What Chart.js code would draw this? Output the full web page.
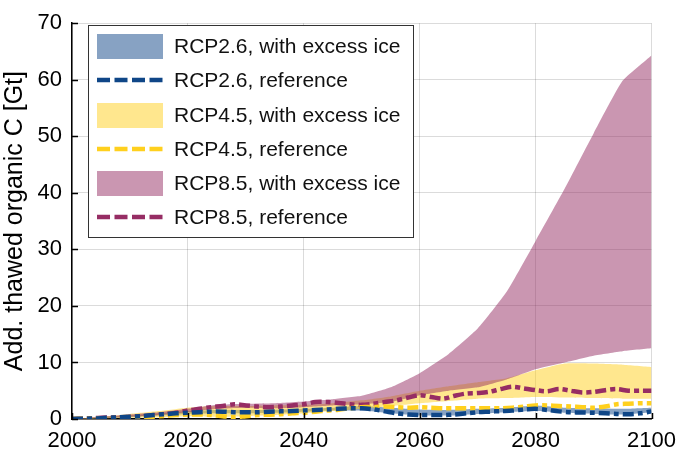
<!DOCTYPE html>
<html>
<head>
<meta charset="utf-8">
<script src="https://cdn.jsdelivr.net/npm/chart.js@4/dist/chart.umd.min.js"></script>
<style>
  html, body { margin: 0; padding: 0; background: #fff; }
  #wrap { width: 685px; height: 449px; }
</style>
</head>
<body>
<div id="wrap"><canvas id="chart"></canvas></div>
<script>
// years for the shaded ranges (every 5 years)
const bandYears = [2000, 2005, 2010, 2015, 2020, 2025, 2030, 2035, 2040, 2045, 2050,
  2055, 2060, 2065, 2070, 2075, 2080, 2085, 2090, 2095, 2100];

// RCP2.6, with excess ice (low / high)
const rcp26Low = [0, 0.1, 0.3, 0.6, 0.9, 1.0, 1.0, 1.1, 1.3, 1.5, 1.5, 1.0, 0.6, 0.6, 0.9, 1.2, 1.4, 1.1, 0.9, 0.8, 1.2];
const rcp26High = [0, 0.3, 0.6, 1.0, 1.4, 1.6, 1.6, 1.6, 1.8, 2.0, 2.3, 2.0, 1.7, 1.6, 1.8, 2.0, 2.4, 2.0, 1.9, 1.8, 2.0];
// RCP4.5, with excess ice
const rcp45Low = [0, 0.1, 0.2, 0.3, 0.5, 0.4, 0.5, 0.7, 1.0, 1.4, 1.8, 2.3, 2.8, 3.2, 3.6, 3.7, 3.9, 3.8, 3.7, 3.6, 3.6];
const rcp45High = [0, 0.4, 0.9, 1.4, 2.0, 2.3, 2.3, 2.4, 2.5, 2.8, 3.3, 4.0, 5.0, 5.8, 6.5, 7.2, 8.6, 9.8, 9.8, 9.6, 9.2];
// RCP8.5, with excess ice
const rcp85Low = [0, 0.2, 0.4, 0.7, 1.2, 1.8, 2.0, 1.9, 2.1, 2.4, 2.6, 3.0, 4.2, 5.0, 5.6, 7.0, 8.8, 10.0, 11.2, 12.0, 12.5];
const rcp85High = [0, 0.4, 0.8, 1.2, 1.8, 2.5, 2.7, 2.8, 3.1, 3.5, 4.1, 5.6, 8.1, 11.5, 16.0, 22.5, 31.5, 40.7, 50.5, 59.8, 64.3];

// years for the reference runs (every 2 years)
const refYears = [];
for (let y = 2000; y <= 2100; y += 2) refYears.push(y);

const rcp26Ref = [0, 0.05, 0.1, 0.2, 0.3, 0.4, 0.5, 0.7, 0.85, 1.0, 1.1, 1.2, 1.3, 1.3, 1.2, 1.2, 1.2, 1.3, 1.35, 1.4,
  1.5, 1.6, 1.7, 1.8, 1.9, 1.9, 1.7, 1.35, 1.0, 0.8, 0.7, 0.7, 0.7, 0.8, 1.0, 1.2, 1.3, 1.4, 1.5, 1.7,
  1.8, 1.6, 1.35, 1.2, 1.15, 1.1, 1.0, 0.9, 0.85, 1.0, 1.35];
const rcp45Ref = [0, 0.05, 0.1, 0.15, 0.2, 0.25, 0.3, 0.4, 0.55, 0.7, 0.8, 0.8, 0.7, 0.5, 0.3, 0.5, 0.7, 0.75, 0.85, 1.0,
  1.1, 1.3, 1.5, 1.65, 1.9, 2.1, 2.1, 2.2, 2.1, 2.0, 2.1, 2.0, 1.9, 1.9, 1.9, 1.9, 1.9, 1.9, 2.0, 2.2,
  2.4, 2.4, 2.3, 2.2, 2.1, 2.0, 2.2, 2.6, 2.7, 2.8, 2.8];
const rcp85Ref = [0, 0.1, 0.15, 0.25, 0.3, 0.35, 0.45, 0.6, 0.8, 1.1, 1.5, 1.8, 2.1, 2.3, 2.6, 2.4, 2.2, 2.1, 2.2, 2.4,
  2.6, 3.0, 3.0, 2.85, 2.6, 2.5, 2.7, 3.0, 3.3, 3.8, 4.2, 3.9, 3.6, 4.1, 4.5, 4.6, 4.8, 5.3, 5.7, 5.4,
  5.1, 4.9, 5.3, 5.0, 4.7, 4.8, 5.1, 5.3, 5.0, 5.0, 5.0];

const FONT = '"Liberation Sans", Arial, Helvetica, sans-serif';
const blue = 'rgb(15,70,135)';
const yellow = 'rgb(255,208,30)';
const purple = 'rgb(150,45,100)';
const fade = c => c.replace('rgb', 'rgba').replace(')', ',0.5)');

const pts = (xs, ys) => xs.map((x, i) => ({ x: x, y: ys[i] }));

function band(label, low, high, color, order) {
  return [
    { label: label + ' low', data: pts(bandYears, low), borderColor: 'transparent', borderWidth: 0,
      pointRadius: 0, fill: false, tension: 0.15, order: order },
    { label: label, data: pts(bandYears, high), borderColor: 'transparent', borderWidth: 0,
      pointRadius: 0, fill: '-1', tension: 0.15, backgroundColor: fade(color), order: order,
      legendType: 'band', legendColor: color }
  ];
}

function ref(label, values, color) {
  return { label: label, data: pts(refYears, values), borderColor: color, borderWidth: 4.5,
    borderDash: [11, 4, 5, 4], pointRadius: 0, fill: false, tension: 0.3, order: 0,
    legendType: 'line', legendColor: color };
}

const datasets = [
  ...band('RCP2.6, with excess ice', rcp26Low, rcp26High, blue, 3),
  ref('RCP2.6, reference', rcp26Ref, blue),
  ...band('RCP4.5, with excess ice', rcp45Low, rcp45High, yellow, 2),
  ref('RCP4.5, reference', rcp45Ref, yellow),
  ...band('RCP8.5, with excess ice', rcp85Low, rcp85High, purple, 1),
  ref('RCP8.5, reference', rcp85Ref, purple)
];

// little inward tick marks on left and bottom axis
const tickMarks = {
  id: 'tickMarks',
  afterDraw(chart) {
    const { ctx, chartArea: a, scales } = chart;
    ctx.save();
    ctx.strokeStyle = '#000';
    ctx.lineWidth = 1.5;
    ctx.beginPath();
    scales.y.ticks.forEach(t => {
      const y = Math.round(scales.y.getPixelForValue(t.value)) + 0.5;
      ctx.moveTo(a.left, y); ctx.lineTo(a.left + 6, y);
    });
    scales.x.ticks.forEach(t => {
      const x = Math.round(scales.x.getPixelForValue(t.value)) + 0.5;
      ctx.moveTo(x, a.bottom); ctx.lineTo(x, a.bottom - 6);
    });
    ctx.stroke();
    ctx.restore();
  }
};

// boxed legend inside the plot, top left
const boxLegend = {
  id: 'boxLegend',
  afterDraw(chart) {
    const { ctx } = chart;
    const items = chart.data.datasets.filter(d => d.legendType);
    const x0 = 88, y0 = 25, w = 325, h = 212;
    const rowY = [46, 80, 115, 149, 183, 217];
    ctx.save();
    ctx.fillStyle = '#fff';
    ctx.fillRect(x0, y0, w, h);
    ctx.strokeStyle = '#333';
    ctx.lineWidth = 1;
    ctx.strokeRect(x0 + 0.5, y0 + 0.5, w, h);
    ctx.font = '21px ' + FONT;
    ctx.textBaseline = 'middle';
    items.forEach((d, i) => {
      const y = rowY[i];
      if (d.legendType === 'band') {
        ctx.fillStyle = fade(d.legendColor);
        ctx.fillRect(97, y - 12, 66, 25);
      } else {
        ctx.strokeStyle = d.legendColor;
        ctx.lineWidth = 4.5;
        ctx.setLineDash([13, 4.5]);
        ctx.beginPath();
        ctx.moveTo(97, y); ctx.lineTo(163, y);
        ctx.stroke();
        ctx.setLineDash([]);
      }
      ctx.fillStyle = '#111';
      ctx.fillText(d.label, 174, y + 1);
    });
    ctx.restore();
  }
};

new Chart(document.getElementById('chart'), {
  type: 'line',
  data: { datasets: datasets },
  options: {
    responsive: true,
    maintainAspectRatio: false,
    animation: false,
    layout: { padding: { top: 9, right: 26, left: 0, bottom: 0 } },
    plugins: {
      legend: { display: false },
      tooltip: { enabled: false },
      filler: { propagate: false }
    },
    scales: {
      x: {
        type: 'linear',
        min: 2000,
        max: 2100,
        ticks: { stepSize: 20, color: '#000', font: { family: FONT, size: 22 }, padding: 9,
          maxRotation: 0, callback: v => String(v) },
        grid: { color: 'rgba(0,0,0,0.14)', drawTicks: false },
        border: { color: '#000', width: 1.5 },
        afterFit: s => { s.height = 30; }
      },
      y: {
        min: 0,
        max: 70,
        ticks: { stepSize: 10, color: '#000', font: { family: FONT, size: 22 }, padding: 10 },
        grid: { color: 'rgba(0,0,0,0.14)', drawTicks: false },
        border: { color: '#000', width: 1.5 },
        title: { display: true, text: 'Add. thawed organic C [Gt]', color: '#000',
          font: { family: FONT, size: 25 }, padding: { top: 0, bottom: 0 } },
        afterFit: s => { s.width = 72; }
      }
    }
  },
  plugins: [tickMarks, boxLegend]
});
</script>
</body>
</html>
